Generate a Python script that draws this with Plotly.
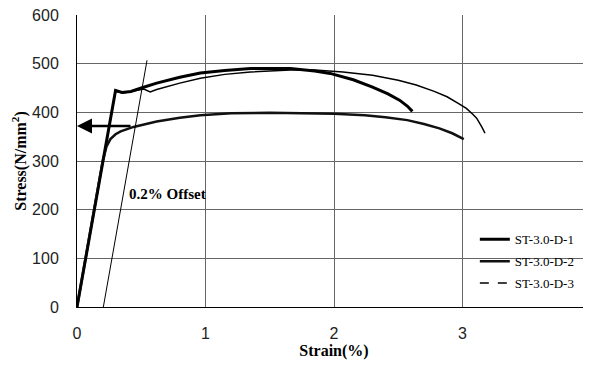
import plotly.graph_objects as go

# Data (strain in %, stress in N/mm^2)
d1_strain = [0, 0.30, 0.35, 0.42, 0.50, 0.62, 0.80, 0.96, 1.15, 1.35, 1.66, 1.85, 1.97, 2.15, 2.30, 2.42, 2.51, 2.57, 2.61]
d1_stress = [0, 445, 441, 443, 450, 460, 472, 481, 486, 490, 490, 485, 480, 467, 452, 438, 425, 413, 402]

d2_strain = [0, 0.20, 0.23, 0.26, 0.30, 0.34, 0.44, 0.62, 0.80, 0.96, 1.20, 1.50, 1.75, 2.00, 2.24, 2.40, 2.57, 2.70, 2.82, 2.92, 3.01]
d2_stress = [0, 300, 330, 345, 355, 361, 370, 381, 389, 394, 398, 399, 398, 397, 394, 390, 384, 376, 367, 357, 345]

d3_strain = [0, 0.30, 0.36, 0.45, 0.52, 0.57, 0.62, 0.80, 0.96, 1.15, 1.35, 1.66, 1.85, 2.07, 2.30, 2.50, 2.64, 2.78, 2.88, 2.97, 3.03, 3.08, 3.11, 3.15, 3.175]
d3_stress = [0, 443, 440, 445, 448, 442, 447, 460, 470, 478, 483, 487, 487, 483, 476, 466, 456, 443, 432, 418, 408, 396, 388, 370, 357]

offset_strain = [0.205, 0.545]
offset_stress = [0, 507]

yield_stress = 372
yield_strain = 0.44

names = ["ST-3.0-D-1", "ST-3.0-D-2", "ST-3.0-D-3"]
x_ticks = [0, 1, 2, 3, 4]
y_ticks = [0, 100, 200, 300, 400, 500, 600]

SERIF = "Liberation Serif"
SANS = "Liberation Sans"

fig = go.Figure()
fig.add_trace(go.Scatter(x=d1_strain, y=d1_stress, mode="lines", name=names[0],
                         line=dict(color="black", width=3), legendgroup="a"))
fig.add_trace(go.Scatter(x=d2_strain, y=d2_stress, mode="lines", name=names[1],
                         line=dict(color="#111", width=2.5), legendgroup="b"))
fig.add_trace(go.Scatter(x=d3_strain, y=d3_stress, mode="lines", name=names[2],
                         line=dict(color="black", width=1.5), showlegend=False, legendgroup="c"))
fig.add_trace(go.Scatter(x=[None], y=[None], mode="lines", name=names[2],
                         line=dict(color="black", width=1.5, dash="dash"), legendgroup="c"))
fig.add_trace(go.Scatter(x=offset_strain, y=offset_stress, mode="lines", showlegend=False,
                         line=dict(color="black", width=1)))

fig.add_annotation(x=0, y=yield_stress, ax=yield_strain, ay=yield_stress, axref="x", ayref="y",
                   xref="x", yref="y", showarrow=True, arrowhead=2, arrowsize=1.2,
                   arrowwidth=2.5, arrowcolor="black", text=" ")
fig.add_annotation(x=0.705, y=232, xref="x", yref="y", text="<b>0.2% Offset</b>", showarrow=False,
                   font=dict(family=SERIF, size=15, color="black"))

# page body has an 8px margin, so the figure is sized/offset to compensate
fig.update_layout(
    width=583, height=362,
    margin=dict(l=69, r=0, t=7, b=63),
    paper_bgcolor="white", plot_bgcolor="white",
    showlegend=True,
    legend=dict(x=0.774, y=0.283, xanchor="left", yanchor="top",
                font=dict(family=SERIF, size=13, color="black"),
                bgcolor="rgba(0,0,0,0)", itemwidth=30, tracegroupgap=2,
                traceorder="grouped"),
    xaxis=dict(range=[0, 4], tickvals=x_ticks, showgrid=True, gridcolor="#666", gridwidth=1,
               zeroline=False, showline=True, linecolor="black", linewidth=1, automargin=False,
               tickfont=dict(family=SANS, size=16, color="#222"), ticks="",
               ticklabeloverflow="allow", ticklabelstandoff=12,
               title=dict(text="<b>Strain(%)</b>", font=dict(family=SERIF, size=16, color="black"),
                          standoff=2)),
    yaxis=dict(range=[0, 600], tickvals=y_ticks, showgrid=True, gridcolor="#666", gridwidth=1,
               zeroline=False, showline=True, linecolor="black", linewidth=1, automargin=False,
               tickfont=dict(family=SANS, size=16, color="#222"), ticks="",
               ticklabeloverflow="allow", ticklabelstandoff=14,
               title=dict(text="<b>Stress(N/mm<sup>2</sup>)</b>", font=dict(family=SERIF, size=16, color="black"),
                          standoff=1)),
)

fig.write_html("out.html")
